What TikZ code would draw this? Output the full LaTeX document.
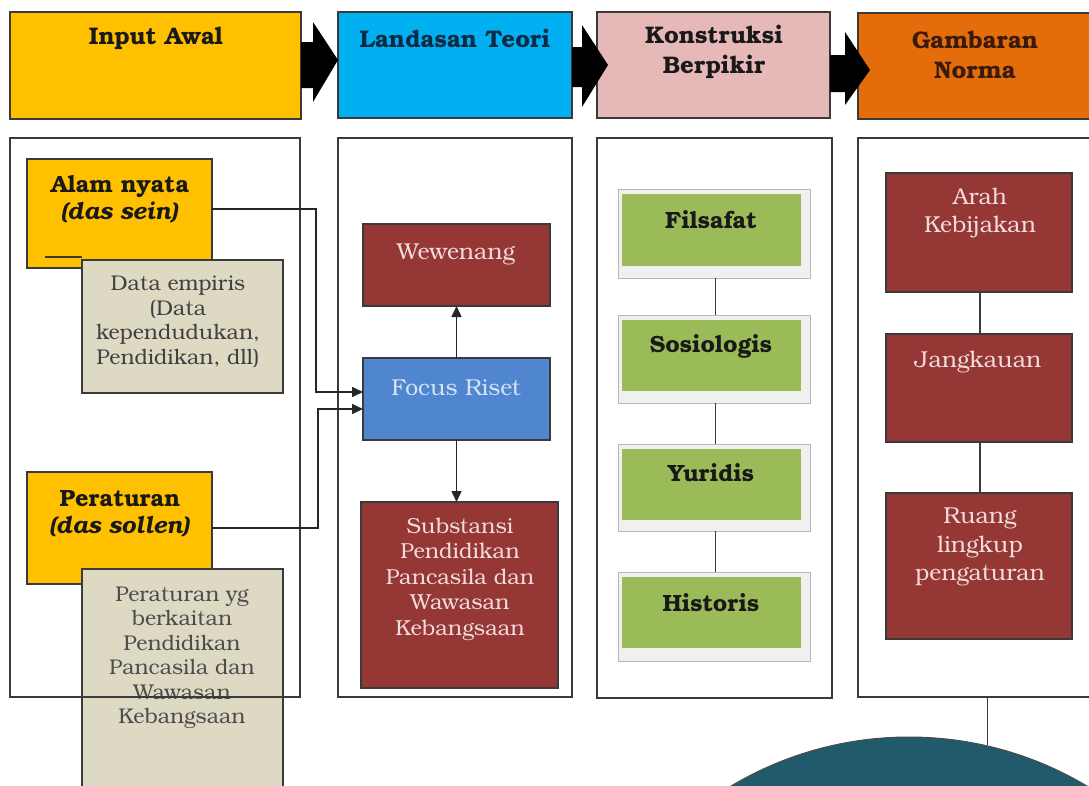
\documentclass[tikz,border=0pt]{standalone}
\usepackage{fontspec}
\setmainfont{texgyrebonum}[Extension=.otf, UprightFont=*-regular, BoldFont=*-bold, ItalicFont=*-italic, BoldItalicFont=*-bolditalic]
\usetikzlibrary{arrows.meta,calc}
\definecolor{cyel}{HTML}{FFC000}
\definecolor{ccyan}{HTML}{00B0F0}
\definecolor{cpink}{HTML}{E6B9B8}
\definecolor{corange}{HTML}{E46C0A}
\definecolor{cred}{HTML}{953735}
\definecolor{credtxt}{HTML}{F2DCDB}
\definecolor{cfocus}{HTML}{4F86CF}
\definecolor{cfocustxt}{HTML}{D5E3F5}
\definecolor{cgreen}{HTML}{9BBB59}
\definecolor{cbeige}{HTML}{DDD9C3}
\definecolor{cteal}{HTML}{215A6A}
\definecolor{cborder}{HTML}{3A3A3A}
\definecolor{cshadow}{HTML}{F0F0F0}
\definecolor{cshadowline}{HTML}{B8B8B8}
\definecolor{cnavy}{HTML}{0F2A45}
\definecolor{cbrown}{HTML}{3A1A0A}
\begin{document}
\begin{tikzpicture}[x=1pt,y=-1pt,
  box/.style={draw=cborder, line width=1.3pt, rectangle, inner sep=0pt, outer sep=0pt, anchor=north west},
  hdr/.style={box, line width=1.5pt},
  hdrtxt/.style={font=\fontsize{24}{30}\selectfont\bfseries, align=center, text=black!90},
  panel/.style={box, draw=cborder, line width=1.2pt},
  yelbox/.style={box, fill=cyel},
  beigebox/.style={box, fill=cbeige},
  redbox/.style={box, fill=cred},
  greenbox/.style={box, draw=none, fill=cgreen},
  shadowbox/.style={fill=cshadow, draw=cshadowline, line width=1pt},
  bodytxt/.style={font=\fontsize{21.3}{24.5}\selectfont, align=center, text=black!75},
  redtxt/.style={font=\fontsize{23}{28.5}\selectfont, align=center, text=credtxt},
  yeltxt/.style={font=\fontsize{23.5}{27}\selectfont\bfseries, align=center, text=black!90},
  greentxt/.style={font=\fontsize{23.5}{24}\selectfont\bfseries, align=center, text=black!90},
  conn/.style={draw=black!85, line width=1.5pt},
  tip/.style={-{Triangle[length=11pt,width=10pt]}},
  thin/.style={draw=cborder, line width=1.2pt}
]
\useasboundingbox (0,0) rectangle (1089,785);
\clip (0,0) rectangle (1089,785);

% ---------- header row ----------
\node[hdr, fill=cyel, minimum width=291, minimum height=107] (h1) at (10,12) {};
\node[hdr, fill=ccyan, minimum width=234, minimum height=106] (h2) at (338,12) {};
\node[hdr, fill=cpink, minimum width=233, minimum height=106] (h3) at (597,12) {};
\node[hdr, fill=corange, minimum width=240, minimum height=106] (h4) at (858,13) {};
\node[hdrtxt] (t1) at (156,38) {Input Awal};
\node[hdrtxt, text=cnavy] (t2) at (455,38) {Landasan Teori};
\node[hdrtxt] (t3) at (714,52) {Konstruksi\\Berpikir};
\node[hdrtxt, text=cbrown] (t4) at (975,55) {Gambaran\\Norma};

% block arrows
\fill[black] (301,42) -- (313,42) -- (313,22) -- (338,60) -- (313,102) -- (313,88) -- (301,88) -- cycle;
\fill[black] (572,47) -- (582,47) -- (582,25) -- (608,65) -- (582,107) -- (582,87) -- (572,87) -- cycle;
\fill[black] (830,55) -- (845,55) -- (845,32) -- (870,70) -- (845,105) -- (845,92) -- (830,92) -- cycle;

% ---------- panel 1 ----------
\node[yelbox, minimum width=185, minimum height=109] (alam) at (27,159) {};
\draw[thin] (45,257) -- (82,257);
\node[beigebox, minimum width=201, minimum height=133] (data) at (82,260) {};
\node[yeltxt] (alamt) at (120,199) {Alam nyata\\\textit{(das sein)}};
\node[bodytxt] (datat) at (178,322) {Data empiris\\(Data\\kependudukan,\\Pendidikan, dll)};

\node[yelbox, minimum width=185, minimum height=112] (pera) at (27,472) {};
\node[beigebox, minimum width=201, minimum height=240] (perayg) at (82,569) {};
\node[yeltxt] (perat) at (120,514) {Peraturan\\\textit{(das sollen)}};
\node[bodytxt, text=black!70] (peraygt) at (182,658) {Peraturan yg\\berkaitan\\Pendidikan\\Pancasila dan\\Wawasan\\Kebangsaan};

% ---------- panel 2 ----------
\node[redbox, minimum width=187, minimum height=82] (wew) at (363,224) {};
\node[redtxt] (wewt) at (456,254) {Wewenang};
\node[box, fill=cfocus, minimum width=187, minimum height=82] (focus) at (363,358) {};
\node[redtxt, text=cfocustxt] (focust) at (456,388) {Focus Riset};
\node[redbox, minimum width=197, minimum height=186] (subs) at (361,502) {};
\node[redtxt, font=\fontsize{21.7}{25.5}\selectfont] (subst) at (460,579) {Substansi\\Pendidikan\\Pancasila dan\\Wawasan\\Kebangsaan};

% ---------- panel 3 ----------
\fill[shadowbox] (618,189) rectangle (810,278);
\node[greenbox, minimum width=179, minimum height=72] (fil) at (622,194) {};
\fill[shadowbox] (618,315) rectangle (810,403);
\node[greenbox, minimum width=179, minimum height=71] (sos) at (622,320) {};
\fill[shadowbox] (618,444) rectangle (810,531);
\node[greenbox, minimum width=179, minimum height=71] (yur) at (622,449) {};
\fill[shadowbox] (618,572) rectangle (810,661);
\node[greenbox, minimum width=179, minimum height=71] (his) at (622,577) {};
\node[greentxt] (filt) at (711,220) {Filsafat};
\node[greentxt] (sost) at (711,346) {Sosiologis};
\node[greentxt] (yurt) at (711,473) {Yuridis};
\node[greentxt] (hist) at (711,603) {Historis};

% ---------- panel 4 ----------
\node[redbox, minimum width=186, minimum height=119] (arah) at (886,173) {};
\node[redtxt] (araht) at (980,213) {Arah\\Kebijakan};
\node[redbox, minimum width=186, minimum height=108] (jang) at (886,334) {};
\node[redtxt] (jangt) at (978,362) {Jangkauan};
\node[redbox, minimum width=186, minimum height=146] (ruang) at (886,493) {};
\node[redtxt] (ruangt) at (980,547) {Ruang\\lingkup\\pengaturan};

% globe
\node[circle, fill=cteal, draw=black!70, line width=1pt, minimum size=694, inner sep=0pt] (globe) at (909,1084) {};

% ---------- panels (outlines on top) ----------
\node[panel, minimum width=290, minimum height=559] (p1) at (10,138) {};
\node[panel, minimum width=234, minimum height=559] (p2) at (338,138) {};
\node[panel, minimum width=235, minimum height=560] (p3) at (597,138) {};
\node[panel, minimum width=240, minimum height=559] (p4) at (858,138) {};

% ---------- connectors ----------
\draw[conn, tip] ($(alam.east)+(0,-4.5)$) -| (316,392) -- ($(focus.west)+(0,-7)$);
\draw[conn, tip] (pera.east) -| (318,409) -- ($(focus.west)+(0,10)$);
\draw[conn, tip] (focus.north) -- (wew.south);
\draw[conn, tip] (focus.south) -- (subs.north -| focus.south);

\draw[thin] ($(fil.south)+(4,12)$) -- ($(sos.north)+(4,-5)$);
\draw[thin] ($(sos.south)+(4,12)$) -- ($(yur.north)+(4,-5)$);
\draw[thin] ($(yur.south)+(4,11)$) -- ($(his.north)+(4,-5)$);

\draw[thin] (arah.south -| 980,0) -- (jang.north -| 980,0);
\draw[thin] (jang.south -| 980,0) -- (ruang.north -| 980,0);
\draw[thin] (p4.south -| globe.77.7) -- (globe.77.7);
\end{tikzpicture}
\end{document}
